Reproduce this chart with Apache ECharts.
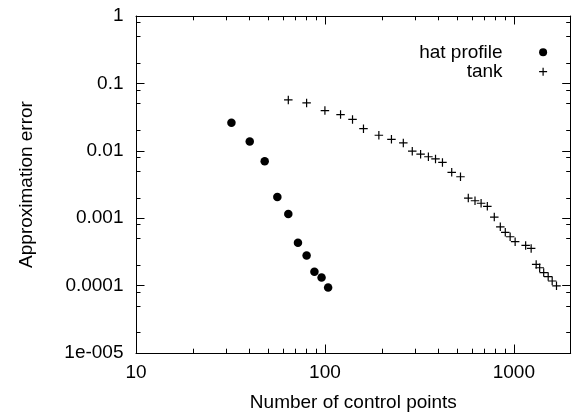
<!DOCTYPE html>
<html>
<head>
<meta charset="utf-8">
<script src="https://cdn.jsdelivr.net/npm/echarts@6/dist/echarts.min.js"></script>
<style>
html,body{margin:0;padding:0;background:#fff;}
#chart{width:575px;height:417px;}
</style>
</head>
<body>
<div id="chart"></div>
<script>
// ---- data ----
var hatX = [32, 40, 48, 56, 64, 72, 80, 88, 96, 104];
var hatY = [0.026, 0.0137, 0.0070, 0.00206, 0.00115, 0.000433, 0.000279, 0.000161, 0.000132, 0.0000935];

var tankX = [64, 80, 100, 121, 140, 160, 193, 225, 260, 290, 321, 353, 385, 419, 469, 522, 574, 623, 671, 724, 788, 848, 901, 956, 1016, 1155, 1235, 1313, 1370, 1439, 1520, 1596, 1682];
var tankY = [0.0568, 0.0513, 0.0395, 0.0345, 0.0292, 0.0213, 0.0170, 0.0148, 0.0131, 0.00987, 0.00891, 0.00816, 0.00757, 0.00673, 0.0048, 0.00412, 0.00199, 0.001815, 0.001667, 0.0015, 0.001038, 0.000745, 0.000618, 0.000531, 0.000448, 0.000395, 0.000356, 0.000206, 0.000184, 0.000156, 0.000136, 0.000117, 0.0000993];

var seriesNames = ['hat profile', 'tank'];

var xMajorTicks = [10, 100, 1000];
var xTickLabels = ['10', '100', '1000'];
var xMinorTicks = [20, 30, 40, 50, 60, 70, 80, 90, 200, 300, 400, 500, 600, 700, 800, 900];

var yMajorTicks = [0.00001, 0.0001, 0.001, 0.01, 0.1, 1];
var yTickLabels = ['1e-005', '0.0001', '0.001', '0.01', '0.1', '1'];
var yMinorTicks = [0.00002, 0.00005, 0.00008, 0.0002, 0.0005, 0.0008, 0.002, 0.005, 0.008, 0.02, 0.05, 0.08, 0.2, 0.5, 0.8];

var xTitle = 'Number of control points';
var yTitle = 'Approximation error';

// ---- build ----
function zip(a, b) { return a.map(function (v, i) { return [v, b[i]]; }); }
function lookup(ticks, labels) {
  return function (v) {
    for (var i = 0; i < ticks.length; i++) {
      if (Math.abs(Math.log10(v) - Math.log10(ticks[i])) < 1e-6) return labels[i];
    }
    return '';
  };
}

var FONT = 'Liberation Sans, Arial, sans-serif';
var black = '#000';
var txt = { color: black, fontSize: 19, fontFamily: FONT };

function xAx(pos, major, withLabel) {
  return {
    type: 'log', logBase: 10, min: 10, max: 2000, position: pos,
    axisLine: { show: major, lineStyle: { color: black, width: 1 } },
    axisTick: { show: true, inside: true, length: major ? 8.5 : 4.3, customValues: major ? xMajorTicks : xMinorTicks, lineStyle: { color: black, width: 1 } },
    axisLabel: withLabel ? Object.assign({ show: true, margin: 10, customValues: xMajorTicks, formatter: lookup(xMajorTicks, xTickLabels) }, txt) : { show: false },
    splitLine: { show: false },
    name: withLabel ? xTitle : '',
    nameLocation: 'middle', nameGap: 40,
    nameTextStyle: txt
  };
}
function yAx(pos, major, withLabel) {
  return {
    type: 'log', logBase: 10, min: 0.00001, max: 1, position: pos,
    axisLine: { show: major, lineStyle: { color: black, width: 1 } },
    axisTick: { show: true, inside: true, length: major ? 8.5 : 4.5, customValues: major ? yMajorTicks : yMinorTicks, lineStyle: { color: black, width: 1 } },
    axisLabel: withLabel ? Object.assign({ show: true, margin: 12.5, customValues: yMajorTicks, formatter: lookup(yMajorTicks, yTickLabels) }, txt) : { show: false },
    splitLine: { show: false },
    name: withLabel ? yTitle : '',
    nameLocation: 'middle', nameGap: 100,
    nameTextStyle: txt
  };
}

var plusPath = 'path://M0,5L10,5M5,0L5,10';

var option = {
  animation: false,
  backgroundColor: '#fff',
  grid: { left: 136, right: 4.3, top: 16, bottom: 61.3 },
  xAxis: [xAx('bottom', true, true), xAx('top', true, false), xAx('bottom', false, false), xAx('top', false, false)],
  yAxis: [yAx('left', true, true), yAx('right', true, false), yAx('left', false, false), yAx('right', false, false)],
  legend: {
    orient: 'vertical', align: 'right', right: 27.3, top: 42.8, padding: 0,
    itemGap: 0.4, itemWidth: 71, itemHeight: 8,
    textStyle: Object.assign({ lineHeight: 19 }, txt),
    data: [
      { name: seriesNames[0], icon: 'circle', itemStyle: { color: black, opacity: 1 } },
      { name: seriesNames[1], icon: plusPath, itemStyle: { color: black, borderColor: black, borderWidth: 1.2, opacity: 1 } }
    ]
  },
  series: [
    {
      name: seriesNames[0], type: 'scatter', xAxisIndex: 0, yAxisIndex: 0,
      symbol: 'circle', symbolSize: 8.5,
      itemStyle: { color: black, opacity: 1 },
      data: zip(hatX, hatY)
    },
    {
      name: seriesNames[1], type: 'scatter', xAxisIndex: 0, yAxisIndex: 0,
      symbol: plusPath, symbolSize: 8.5,
      itemStyle: { color: black, borderColor: black, borderWidth: 1.2, opacity: 1 },
      data: zip(tankX, tankY)
    }
  ]
};

var chart = echarts.init(document.getElementById('chart'), null, { renderer: 'canvas' });
chart.setOption(option);
</script>
</body>
</html>
